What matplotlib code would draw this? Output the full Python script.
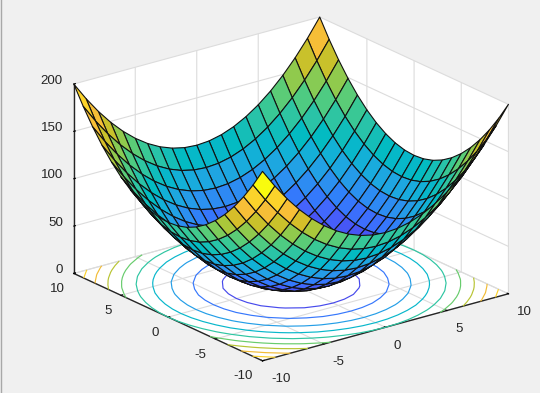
import matplotlib
matplotlib.use("Agg")
import numpy as np
import matplotlib.pyplot as plt
from matplotlib.colors import LinearSegmentedColormap, Normalize
from matplotlib.lines import Line2D

x_values = [-10,-9,-8,-7,-6,-5,-4,-3,-2,-1,0,1,2,3,4,5,6,7,8,9,10]
y_values = [-10,-9,-8,-7,-6,-5,-4,-3,-2,-1,0,1,2,3,4,5,6,7,8,9,10]
z_rows = [
 [200,181,164,149,136,125,116,109,104,101,100,101,104,109,116,125,136,149,164,181,200],
 [181,162,145,130,117,106, 97, 90, 85, 82, 81, 82, 85, 90, 97,106,117,130,145,162,181],
 [164,145,128,113,100, 89, 80, 73, 68, 65, 64, 65, 68, 73, 80, 89,100,113,128,145,164],
 [149,130,113, 98, 85, 74, 65, 58, 53, 50, 49, 50, 53, 58, 65, 74, 85, 98,113,130,149],
 [136,117,100, 85, 72, 61, 52, 45, 40, 37, 36, 37, 40, 45, 52, 61, 72, 85,100,117,136],
 [125,106, 89, 74, 61, 50, 41, 34, 29, 26, 25, 26, 29, 34, 41, 50, 61, 74, 89,106,125],
 [116, 97, 80, 65, 52, 41, 32, 25, 20, 17, 16, 17, 20, 25, 32, 41, 52, 65, 80, 97,116],
 [109, 90, 73, 58, 45, 34, 25, 18, 13, 10,  9, 10, 13, 18, 25, 34, 45, 58, 73, 90,109],
 [104, 85, 68, 53, 40, 29, 20, 13,  8,  5,  4,  5,  8, 13, 20, 29, 40, 53, 68, 85,104],
 [101, 82, 65, 50, 37, 26, 17, 10,  5,  2,  1,  2,  5, 10, 17, 26, 37, 50, 65, 82,101],
 [100, 81, 64, 49, 36, 25, 16,  9,  4,  1,  0,  1,  4,  9, 16, 25, 36, 49, 64, 81,100],
 [101, 82, 65, 50, 37, 26, 17, 10,  5,  2,  1,  2,  5, 10, 17, 26, 37, 50, 65, 82,101],
 [104, 85, 68, 53, 40, 29, 20, 13,  8,  5,  4,  5,  8, 13, 20, 29, 40, 53, 68, 85,104],
 [109, 90, 73, 58, 45, 34, 25, 18, 13, 10,  9, 10, 13, 18, 25, 34, 45, 58, 73, 90,109],
 [116, 97, 80, 65, 52, 41, 32, 25, 20, 17, 16, 17, 20, 25, 32, 41, 52, 65, 80, 97,116],
 [125,106, 89, 74, 61, 50, 41, 34, 29, 26, 25, 26, 29, 34, 41, 50, 61, 74, 89,106,125],
 [136,117,100, 85, 72, 61, 52, 45, 40, 37, 36, 37, 40, 45, 52, 61, 72, 85,100,117,136],
 [149,130,113, 98, 85, 74, 65, 58, 53, 50, 49, 50, 53, 58, 65, 74, 85, 98,113,130,149],
 [164,145,128,113,100, 89, 80, 73, 68, 65, 64, 65, 68, 73, 80, 89,100,113,128,145,164],
 [181,162,145,130,117,106, 97, 90, 85, 82, 81, 82, 85, 90, 97,106,117,130,145,162,181],
 [200,181,164,149,136,125,116,109,104,101,100,101,104,109,116,125,136,149,164,181,200],
]
contour_levels = [20,40,60,80,100,120,140,160,180]
xy_ticks = [-10,-5,0,5,10]
z_ticks = [0,50,100,150,200]

parula = LinearSegmentedColormap.from_list("parula", [
 (0.2422,0.1504,0.6603),(0.2706,0.2147,0.8364),(0.2813,0.3006,0.9414),
 (0.2699,0.3892,0.9906),(0.1963,0.4847,0.9892),(0.1687,0.5703,0.9359),
 (0.1248,0.6459,0.8883),(0.0689,0.6948,0.8394),(0.0067,0.7312,0.7660),
 (0.1408,0.7584,0.6842),(0.2161,0.7843,0.5923),(0.3406,0.8008,0.4789),
 (0.5044,0.7993,0.3480),(0.6720,0.7793,0.2227),(0.8203,0.7498,0.1535),
 (0.9393,0.7288,0.2100),(0.9970,0.7659,0.2199),(0.9892,0.8086,0.1728),
 (0.9600,0.8900,0.1500),(0.9763,0.9831,0.0538)], N=256)
norm = Normalize(0, 200)

plt.rcParams["font.family"] = ["Liberation Sans", "DejaVu Sans"]
plt.rcParams["axes.unicode_minus"] = False
BG = "#f0f0f0"
INK = "#262626"
fig = plt.figure(figsize=(5.40, 3.93), dpi=100, facecolor=BG)
SIDE = 600
ax = fig.add_axes([(283-SIDE/2)/540, (196-SIDE/2)/393, SIDE/540, SIDE/393],
                  projection="3d", computed_zorder=False, facecolor="none")
ax.set_proj_type("ortho")
ax.view_init(elev=20.8, azim=-127.5)
ax.set_box_aspect((309, 309, 202), zoom=1.193*393/SIDE)

X, Y = np.meshgrid(x_values, y_values)
Z = np.array(z_rows, dtype=float)
face = parula(norm(Z[:-1, :-1]))

ax.contour(X, Y, Z, levels=contour_levels, zdir="z", offset=0, cmap=parula, norm=norm,
           linewidths=0.85, zorder=1)
ax.plot_surface(X, Y, Z, rstride=1, cstride=1, facecolors=face, edgecolor="#111111",
                linewidth=0.8, shade=False, antialiased=True, zorder=2)

ax.set_xlim(-10, 10); ax.set_ylim(-10, 10); ax.set_zlim(0, 200)
ax.set_xticks(xy_ticks); ax.set_yticks(xy_ticks); ax.set_zticks(z_ticks)
for a in (ax.xaxis, ax.yaxis, ax.zaxis):
    a.set_pane_color((1, 1, 1, 1))
    a.pane.set_edgecolor("none")
    a.line.set_color(INK)
    a.line.set_linewidth(1.0)
    a._axinfo["grid"].update(color="#dcdcdc", linewidth=0.8)
    a._axinfo["tick"].update(color=INK, inward_factor=0.0, outward_factor=0.08,
                             linewidth={True: 0.8, False: 0.5})
ax.tick_params(labelsize=9.6, labelcolor=INK, pad=0)
ax.xaxis.set_tick_params(pad=2)
ax.yaxis.set_tick_params(pad=0.5)
ax.zaxis.set_tick_params(pad=-2.4)
ax.zaxis.set_ticks_position("upper")
for t in ax.xaxis.get_ticklabels():
    t.set_ha("left")
for t in ax.yaxis.get_ticklabels():
    t.set_ha("right")
for t in ax.zaxis.get_ticklabels():
    t.set_ha("right"); t.set_va("baseline")

fig.add_artist(Line2D([0.001, 0.001], [0, 1], color="#a8a8a8", linewidth=1.0))
fig.savefig("out.png", dpi=100, facecolor=BG)
